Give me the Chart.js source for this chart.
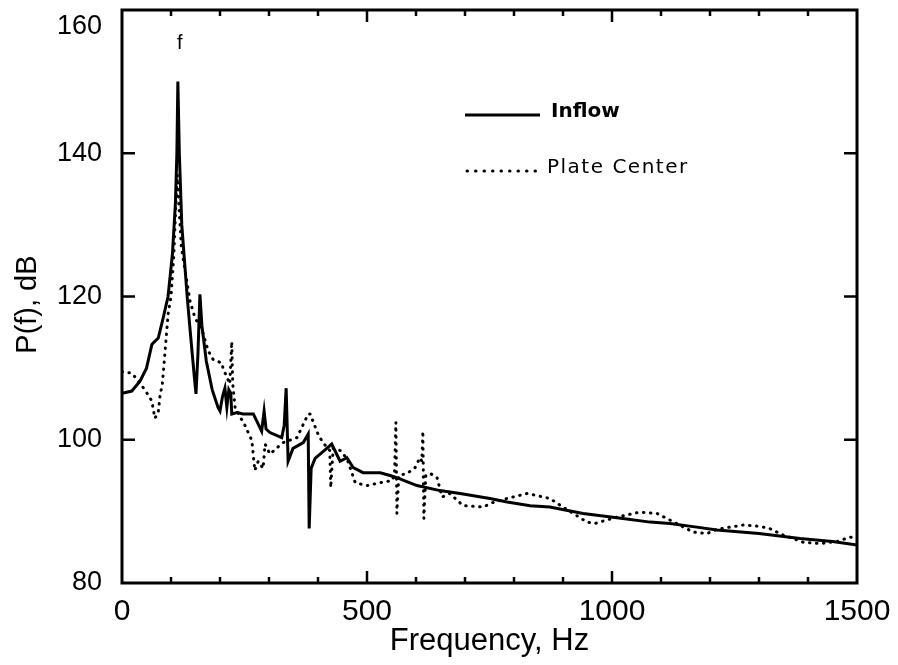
<!DOCTYPE html>
<html>
<head>
<meta charset="utf-8">
<script src="https://cdn.jsdelivr.net/npm/chart.js@4.4.1/dist/chart.umd.min.js"></script>
<style>
  html, body { margin: 0; padding: 0; background: #fff; }
  #wrap { width: 898px; height: 665px; }
</style>
</head>
<body>
<div id="wrap"><canvas id="spectrum" width="898" height="665"></canvas></div>
<script>
// Inflow (solid line), frequency in Hz and level in dB
let inflowFreq = [0, 20, 37, 50, 61, 65, 74, 84, 94, 103, 109, 112, 114, 117, 122, 133, 142, 148, 151, 155, 159, 163, 172, 184, 196, 200, 205, 210, 214, 218, 222, 224, 235, 247, 268, 285, 290, 294, 302, 326, 331, 335, 339, 349, 370, 380, 382, 386, 394, 418, 428, 445, 459, 472, 492, 527, 547, 561, 580, 602, 649, 690, 751, 786, 833, 873, 941, 1022, 1078, 1118, 1173, 1214, 1300, 1384, 1450, 1500];
let inflowDb = [106.5, 106.8, 108.2, 110, 113.3, 113.6, 114.2, 117, 120, 126, 133, 140, 150, 140, 130, 120, 113, 108.5, 106.4, 112, 120.3, 116, 111, 107, 104.5, 104, 106, 107.2, 104.5, 107, 106.5, 103.6, 103.8, 103.6, 103.6, 101.2, 104, 101.5, 101, 100.3, 102, 107.2, 97, 98.8, 99.6, 100.8, 87.6, 96, 97.4, 98.8, 99.4, 97, 97.5, 96.1, 95.4, 95.4, 95, 94.7, 94.2, 93.6, 92.9, 92.5, 91.8, 91.3, 90.8, 90.6, 89.7, 89, 88.5, 88.3, 87.8, 87.4, 86.9, 86.2, 85.8, 85.3];

// Plate Center (dotted line)
let plateFreq = [0, 20, 37, 51, 61, 67, 74, 78, 82, 88, 94, 100, 106, 110, 113, 116, 121, 129, 139, 149, 163, 176, 186, 204, 206, 220, 224, 226, 231, 251, 265, 271, 278, 288, 292, 302, 322, 329, 357, 380, 384, 400, 410, 424, 426, 431, 445, 459, 476, 500, 527, 551, 556, 559, 561, 565, 582, 598, 608, 612, 614, 616, 620, 629, 643, 653, 669, 696, 737, 755, 786, 827, 847, 873, 900, 949, 965, 1010, 1057, 1092, 1118, 1166, 1194, 1214, 1268, 1302, 1322, 1349, 1390, 1424, 1459, 1486, 1500];
let plateDb = [109.5, 109.3, 107.9, 106.5, 105.4, 103, 103.8, 106.4, 107.5, 112.4, 117.5, 120, 126, 133, 137, 133, 127, 123.5, 119.3, 117, 115.4, 112.4, 111.2, 110.7, 110, 107.8, 113.7, 107.8, 104.4, 102, 99.9, 95.7, 97, 96, 99.4, 98, 99.2, 99.6, 100.3, 103.6, 103.6, 100.8, 99.6, 98.5, 93.3, 98.8, 98.5, 97.4, 94, 93.6, 94, 94.3, 95, 102.4, 89.7, 95, 95.3, 96.1, 97.5, 97, 101.2, 89, 95, 95.3, 94.7, 92, 92.5, 90.8, 90.6, 91.2, 91.8, 92.5, 92.2, 91.8, 90.6, 88.5, 88.3, 89.2, 89.9, 89.7, 88.8, 87.1, 86.9, 87.5, 88.1, 87.9, 87.6, 86.7, 85.7, 85.5, 85.8, 86.4, 86.3];

let seriesNames = ["Inflow", "Plate Center"];
let xTickLabels = [0, 500, 1000, 1500];
let yTickLabels = [80, 100, 120, 140, 160];
let peakMark = { freq: 114, db: 154.5, text: "f" };

function toPoints(xs, ys) {
    return xs.map((x, i) => ({ x: x, y: ys[i] }));
}

const ink = "#000";

// frame, inward tick marks, peak mark and legend
const framePlugin = {
    id: "frame",
    afterDatasetsDraw(chart) {
        const ctx = chart.ctx;
        const a = chart.chartArea;
        const xs = chart.scales.x;
        const ys = chart.scales.y;
        ctx.save();
        ctx.strokeStyle = ink;
        ctx.lineWidth = 3;
        ctx.strokeRect(a.left, a.top, a.right - a.left, a.bottom - a.top);

        ctx.lineWidth = 2.5;
        ctx.beginPath();
        for (let v = 100; v < 1500; v += 100) {
            let px = xs.getPixelForValue(v);
            let len = v % 500 === 0 ? 12 : 6;
            ctx.moveTo(px, a.bottom);
            ctx.lineTo(px, a.bottom - len);
            ctx.moveTo(px, a.top);
            ctx.lineTo(px, a.top + len);
        }
        for (let v = 100; v < 160; v += 20) {
            let py = ys.getPixelForValue(v);
            ctx.moveTo(a.left, py);
            ctx.lineTo(a.left + 13, py);
            ctx.moveTo(a.right, py);
            ctx.lineTo(a.right - 13, py);
        }
        ctx.stroke();

        // peak label
        ctx.fillStyle = ink;
        ctx.font = "20px 'Liberation Sans'";
        ctx.textAlign = "center";
        ctx.textBaseline = "alphabetic";
        ctx.fillText(peakMark.text, xs.getPixelForValue(peakMark.freq) + 2, ys.getPixelForValue(peakMark.db));

        // legend
        ctx.textAlign = "left";
        ctx.lineWidth = 3;
        ctx.setLineDash([]);
        ctx.beginPath();
        ctx.moveTo(465, 115);
        ctx.lineTo(540, 115);
        ctx.stroke();
        ctx.font = "bold 20px 'DejaVu Sans'";
        ctx.fillText(seriesNames[0], 551, 117);

        ctx.lineWidth = 3;
        ctx.lineCap = "round";
        ctx.setLineDash([0.5, 8]);
        ctx.beginPath();
        ctx.moveTo(467, 171);
        ctx.lineTo(541, 171);
        ctx.stroke();
        ctx.setLineDash([]);
        ctx.font = "20px 'DejaVu Sans'";
        ctx.letterSpacing = "1.5px";
        ctx.fillText(seriesNames[1], 547, 173);
        ctx.restore();
    }
};

let ctx = document.getElementById("spectrum").getContext("2d");
let chartInstance = new Chart(ctx, {
    type: "line",
    data: {
        datasets: [
            {
                label: seriesNames[0],
                data: toPoints(inflowFreq, inflowDb),
                borderColor: ink,
                borderWidth: 3,
                pointRadius: 0,
                tension: 0,
                fill: false
            },
            {
                label: seriesNames[1],
                data: toPoints(plateFreq, plateDb),
                borderColor: ink,
                borderWidth: 3,
                borderDash: [0.5, 6.5],
                borderCapStyle: "round",
                pointRadius: 0,
                tension: 0,
                fill: false
            }
        ]
    },
    options: {
        responsive: false,
        animation: false,
        layout: { padding: { top: 10, right: 41, bottom: 0, left: 0 } },
        plugins: {
            legend: { display: false },
            tooltip: { enabled: false }
        },
        scales: {
            x: {
                type: "linear",
                min: 0,
                max: 1500,
                grid: { display: false },
                border: { display: false },
                ticks: {
                    stepSize: 100,
                    autoSkip: false,
                    maxRotation: 0,
                    padding: 3,
                    color: ink,
                    font: { family: "'Liberation Sans'", size: 30 },
                    callback: v => xTickLabels.includes(v) ? String(v) : ""
                },
                title: {
                    display: true,
                    text: "Frequency, Hz",
                    color: ink,
                    font: { family: "'Liberation Sans'", size: 31 },
                    padding: { top: 0, bottom: 5 }
                },
                afterFit: scale => {
                    scale.height = 82;
                    scale.paddingLeft = 0;
                    scale.paddingRight = 0;
                }
            },
            y: {
                min: 80,
                max: 160,
                grid: { display: false },
                border: { display: false },
                ticks: {
                    stepSize: 20,
                    padding: 12,
                    color: ink,
                    font: { family: "'Liberation Sans'", size: 27 },
                    // top label sits just under the frame, as in the original
                    callback: v => {
                        if (!yTickLabels.includes(v)) return "";
                        return v === 160 ? ["", String(v)] : String(v);
                    }
                },
                title: {
                    display: true,
                    text: "P(f), dB  ",
                    color: ink,
                    font: { family: "'Liberation Sans'", size: 29 },
                    padding: { top: 11, bottom: 0 }
                },
                afterFit: scale => {
                    scale.width = 122;
                    scale.paddingTop = 0;
                    scale.paddingBottom = 0;
                }
            }
        }
    },
    plugins: [framePlugin]
});
</script>
</body>
</html>
